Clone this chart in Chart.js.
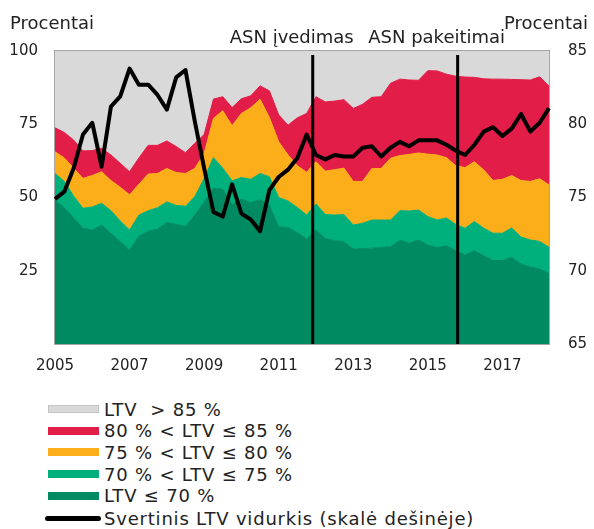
<!DOCTYPE html>
<html>
<head>
<meta charset="utf-8">
<script src="https://cdn.jsdelivr.net/npm/chart.js@4.4.0/dist/chart.umd.min.js"></script>
<style>
  body { margin: 0; background: #fff; font-family: "DejaVu Sans", sans-serif; }
  #wrap { position: relative; width: 594px; height: 529px; overflow: hidden; }
  #chartBox { position: absolute; left: 0; top: 0; width: 594px; height: 390px; }
  .item { position: absolute; left: 48px; height: 20px; display: flex; align-items: center;
          font-size: 18px; letter-spacing: 0.8px; color: #222; white-space: pre; }
  .swatch { width: 51px; height: 8px; margin-right: 5px; box-sizing: border-box; }
  .lineSw { width: 56px; height: 5px; margin-left: -3px; margin-right: 3px; background: #000; border-radius: 3px; }
</style>
</head>
<body>
<div id="wrap">
  <div id="chartBox"><canvas id="grafikas"></canvas></div>
  <div id="legenda"></div>
</div>
<script>
// ketvirčiai nuo 2005 K1 iki 2018 K2
const ketvirciai = [];
for (let m = 2005; m <= 2018; m++) {
    for (let k = 1; k <= 4; k++) {
        if (m === 2018 && k > 2) break;
        ketvirciai.push(m + ' K' + k);
    }
}
const metuZymos = ['2005', '2007', '2009', '2011', '2013', '2015', '2017'];

// paskolų dalys pagal LTV grupes, proc.
const ltvIki70 = [49.1,46.5,43.0,39.5,38.9,40.6,37.8,35.0,32.1,36.8, 38.5,39.2,41.5,40.8,40.2,44.0,48.5,53.1,52.8,47.6,
    49.5,48.2,49.3,47.4,40.0,39.8,38.0,35.8,38.9,36.0, 35.3,34.9,32.4,32.6,32.7,33.0,33.2,35.5,34.4,35.5,
    33.8,32.9,33.5,31.8,30.4,31.8,30.1,28.5,28.5,29.6, 27.3,26.3,25.6,24.1];
const ltv70_75 = [9.1,9.0,7.5,6.8,7.9,7.4,7.7,7.0,6.8,7.2, 7.0,7.3,7.0,6.5,6.8,6.3,8.0,10.5,7.2,8.1,
    7.3,8.0,8.9,9.7,10.0,9.0,8.6,8.2,8.9,8.2, 8.7,9.3,8.2,8.6,9.6,9.3,9.1,10.0,11.0,10.2,
    9.7,9.4,9.5,9.0,9.1,10.0,9.4,9.3,9.3,10.0, 9.2,9.2,9.4,8.9];
const ltv75_80 = [7.4,8.0,9.5,10.2,10.7,10.8,10.3,11.5,12.0,10.5, 12.5,11.7,11.4,11.2,11.2,9.6,8.5,13.4,19.6,18.8,
    21.9,24.4,25.3,20.2,19.0,15.7,14.2,14.6,14.4,14.8, 15.5,15.8,14.9,14.3,17.6,17.6,21.1,18.8,19.3,19.5,
    21.3,22.2,20.6,20.0,20.7,20.4,19.9,18.0,18.4,17.9, 19.3,20.0,21.4,21.3];
const ltv80_85 = [8.2,8.7,9.6,9.4,8.5,8.0,8.7,8.2,7.9,9.0, 9.8,9.6,9.4,8.9,7.1,8.6,6.5,6.6,4.8,6.2,
    5.0,4.1,4.6,9.1,9.2,10.2,16.4,20.1,22.2,23.6, 23.4,23.4,24.9,26.3,24.3,24.5,25.6,26.1,25.4,24.8,
    28.5,28.7,28.5,30.6,30.9,28.8,31.1,34.6,34.2,32.8, 34.4,34.6,34.8,33.7];
const ltvVirs85 = [26.2,27.8,30.4,34.1,34.0,33.2,35.5,38.3,41.2,36.5, 32.2,32.2,30.7,32.6,34.7,31.5,28.5,16.4,15.6,19.3,
    16.3,15.3,11.9,13.6,21.8,25.3,22.8,21.3,15.6,17.4, 17.1,16.6,19.6,18.2,15.8,15.6,11.0,9.6,9.9,10.0,
    6.7,6.8,7.9,8.6,8.9,9.0,9.5,9.6,9.6,9.7, 9.8,9.9,8.8,12.0];

// svertinis LTV vidurkis (dešinė skalė)
const ltvVidurkis = [74.9,75.4,77.0,79.3,80.1,77.1,81.2,81.9,83.8,82.7, 82.7,82.0,81.0,83.2,83.7,80.2,77.0,74.0,73.7,75.9,
    73.9,73.5,72.7,75.5,76.4,76.9,77.7,79.3,77.9,77.6, 77.9,77.8,77.8,78.4,78.5,77.8,78.4,78.8,78.5,78.9,
    78.9,78.9,78.6,78.2,77.9,78.6,79.5,79.8,79.2,79.7, 80.7,79.5,80.1,81.1];

// įvykiai (ketvirčio indeksas)
const ivykiai = ['ASN įvedimas', 'ASN pakeitimai'];
const ivykiuVieta = [27.65, 43.2];

const sriftas = '"DejaVu Sans", sans-serif';
const tekstoSpalva = '#222';

const grupes = [
    { pavadinimas: 'LTV ≤ 70 %', duomenys: ltvIki70, spalva: '#008a62' },
    { pavadinimas: '70 % < LTV ≤ 75 %', duomenys: ltv70_75, spalva: '#00b07c' },
    { pavadinimas: '75 % < LTV ≤ 80 %', duomenys: ltv75_80, spalva: '#fbad1a' },
    { pavadinimas: '80 % < LTV ≤ 85 %', duomenys: ltv80_85, spalva: '#e21d48' },
    { pavadinimas: 'LTV  > 85 %', duomenys: ltvVirs85, spalva: '#d9d9d9' }
];

const rinkiniai = grupes.map((g, i) => ({
    label: g.pavadinimas,
    data: g.duomenys,
    backgroundColor: g.spalva,
    borderColor: g.spalva,
    borderWidth: 1,
    pointRadius: 0,
    fill: i === 0 ? 'origin' : '-1',
    yAxisID: 'y',
    order: 1
}));
rinkiniai.push({
    label: 'Svertinis LTV vidurkis (skalė dešinėje)',
    data: ltvVidurkis,
    borderColor: '#000',
    borderWidth: 4,
    borderJoinStyle: 'round',
    pointRadius: 0,
    fill: false,
    tension: 0,
    yAxisID: 'y1',
    order: 0
});

// rėmelis, vertikalios linijos ir užrašai
const papildomai = {
    id: 'papildomai',
    afterDatasetDraw(chart, args) {
        if (args.index !== 0) return;
        const { ctx, chartArea: a, scales: { x } } = chart;
        ctx.save();
        ctx.strokeStyle = '#a6a6a6';
        ctx.lineWidth = 1;
        ctx.strokeRect(a.left - 0.5, a.top - 0.5, a.right - a.left + 1, a.bottom - a.top + 1);
        ctx.strokeStyle = '#000';
        ctx.lineWidth = 3;
        ctx.font = '18px ' + sriftas;
        ctx.fillStyle = tekstoSpalva;
        ctx.textAlign = 'center';
        ivykiuVieta.forEach((v, i) => {
            const px = x.getPixelForValue(v);
            ctx.beginPath();
            ctx.moveTo(px, a.top + 4);
            ctx.lineTo(px, a.bottom);
            ctx.stroke();
            ctx.fillText(ivykiai[i], px - 21, 43);
        });
        ctx.textAlign = 'left';
        ctx.fillText('Procentai', 10, 29);
        ctx.fillText('Procentai', 504, 29);
        ctx.restore();
    }
};

const ctx = document.getElementById('grafikas').getContext('2d');
new Chart(ctx, {
    type: 'line',
    data: { labels: ketvirciai, datasets: rinkiniai },
    options: {
        responsive: true,
        maintainAspectRatio: false,
        animation: false,
        layout: { padding: { top: 51, left: 0, right: 0, bottom: 0 } },
        plugins: { legend: { display: false }, tooltip: { enabled: false } },
        scales: {
            x: {
                grid: { display: false, drawTicks: false },
                border: { display: false },
                ticks: {
                    autoSkip: false,
                    maxRotation: 0,
                    padding: 13,
                    color: tekstoSpalva,
                    font: { family: sriftas, size: 15 },
                    callback: function (val) {
                        const l = ketvirciai[val];
                        const m = l.slice(0, 4);
                        return (l.endsWith('K1') && metuZymos.includes(m)) ? m : '';
                    }
                },
                afterFit: s => { s.height = 46; }
            },
            y: {
                stacked: true,
                min: 0,
                max: 100,
                grid: { display: false, drawTicks: false },
                border: { display: false },
                ticks: {
                    stepSize: 25,
                    padding: 17,
                    color: tekstoSpalva,
                    font: { family: sriftas, size: 15 },
                    callback: v => v === 0 ? '' : v
                },
                afterFit: s => { s.width = 55; }
            },
            y1: {
                position: 'right',
                min: 65,
                max: 85,
                grid: { display: false, drawTicks: false },
                border: { display: false },
                ticks: {
                    stepSize: 5,
                    padding: 19,
                    color: tekstoSpalva,
                    font: { family: sriftas, size: 15 }
                },
                afterFit: s => { s.width = 45; }
            }
        }
    },
    plugins: [papildomai]
});

// legenda
const legenda = document.getElementById('legenda');
const eile = [...grupes].reverse();
eile.forEach((g, i) => {
    const d = document.createElement('div');
    d.className = 'item';
    d.style.top = (399 + i * 21.7) + 'px';
    const sw = document.createElement('span');
    sw.className = 'swatch';
    sw.style.background = g.spalva;
    if (g.spalva === '#d9d9d9') sw.style.border = '1px solid #c4c4c4';
    d.appendChild(sw);
    d.appendChild(document.createTextNode(g.pavadinimas));
    legenda.appendChild(d);
});
const dl = document.createElement('div');
dl.className = 'item';
dl.style.top = (399 + 5 * 21.7 + 1) + 'px';
const lsw = document.createElement('span');
lsw.className = 'lineSw';
dl.appendChild(lsw);
dl.appendChild(document.createTextNode('Svertinis LTV vidurkis (skalė dešinėje)'));
legenda.appendChild(dl);
</script>
</body>
</html>
